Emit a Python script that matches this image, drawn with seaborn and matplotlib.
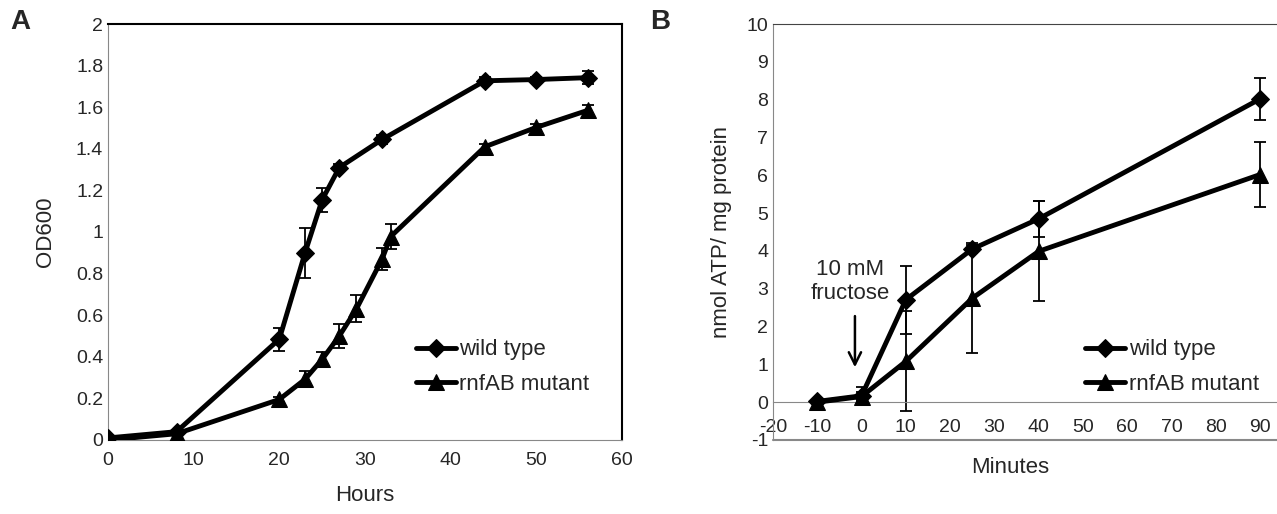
import matplotlib
matplotlib.use("Agg")
import matplotlib.pyplot as plt
import seaborn as sns
import pandas as pd

# panel A - growth curve
hours_wt = [0, 8, 20, 23, 25, 27, 32, 44, 50, 56]
od_wt = [0.01, 0.04, 0.485, 0.90, 1.155, 1.31, 1.445, 1.727, 1.733, 1.742]
od_wt_err = [0.005, 0.01, 0.055, 0.12, 0.058, 0.015, 0.02, 0.02, 0.012, 0.03]
hours_mut = [0, 8, 20, 23, 25, 27, 29, 32, 33, 44, 50, 56]
od_mut = [0.0, 0.03, 0.195, 0.292, 0.388, 0.50, 0.63, 0.87, 0.978, 1.41, 1.503, 1.585]
od_mut_err = [0.005, 0.005, 0.012, 0.038, 0.035, 0.056, 0.065, 0.052, 0.062, 0.015, 0.015, 0.027]

# panel B - ATP
min_pts = [-10, 0, 10, 25, 40, 90]
atp_wt = [0.02, 0.17, 2.71, 4.05, 4.85, 8.02]
atp_wt_err = [0.05, 0.22, 0.9, 0.1, 0.48, 0.56]
atp_mut = [0.0, 0.15, 1.08, 2.75, 3.99, 6.02]
atp_mut_err = [0.03, 0.12, 1.32, 1.46, 1.32, 0.85]

labels = ["wild type", "rnfAB mutant"]

sns.set_style("white")
plt.rcParams['font.family'] = ['Liberation Sans', 'DejaVu Sans']
plt.rcParams['axes.unicode_minus'] = False

fig = plt.figure(figsize=(12.77, 5.14), dpi=100)
axA = fig.add_axes([108/1277, 74/514, 514/1277, 416/514])
axB = fig.add_axes([773/1277, 74/514, 504/1277, 416/514])

def draw(ax, x1, y1, e1, x2, y2, e2):
    df1 = pd.DataFrame({"x": x1, "y": y1})
    df2 = pd.DataFrame({"x": x2, "y": y2})
    ax.errorbar(x1, y1, yerr=e1, fmt="none", ecolor="black", elinewidth=1.3, capsize=4, capthick=1.3, zorder=2)
    ax.errorbar(x2, y2, yerr=e2, fmt="none", ecolor="black", elinewidth=1.3, capsize=4, capthick=1.3, zorder=2)
    sns.lineplot(data=df1, x="x", y="y", ax=ax, color="black", lw=3.5, marker="D", markersize=9,
                 markeredgecolor="black", label=labels[0], sort=False, zorder=3)
    sns.lineplot(data=df2, x="x", y="y", ax=ax, color="black", lw=3.5, marker="^", markersize=11,
                 markeredgecolor="black", label=labels[1], sort=False, zorder=3)

draw(axA, hours_wt, od_wt, od_wt_err, hours_mut, od_mut, od_mut_err)
draw(axB, min_pts, atp_wt, atp_wt_err, min_pts, atp_mut, atp_mut_err)

# panel A axes
axA.set_xlim(0, 60)
axA.set_ylim(0, 2)
axA.set_xticks(range(0, 61, 10))
axA.set_yticks([0, 0.2, 0.4, 0.6, 0.8, 1, 1.2, 1.4, 1.6, 1.8, 2])
axA.set_yticklabels(["0", "0.2", "0.4", "0.6", "0.8", "1", "1.2", "1.4", "1.6", "1.8", "2"])
axA.set_xlabel("Hours", fontsize=16, labelpad=12)
axA.set_ylabel("OD600", fontsize=16, labelpad=14)
for s in ["left", "bottom"]:
    axA.spines[s].set_color("#888888")
for s in ["top", "right"]:
    axA.spines[s].set_color("black")
    axA.spines[s].set_linewidth(1.5)
axA.tick_params(axis="both", labelsize=14, direction="out", length=5, color="#888888")
axA.tick_params(axis="y", length=0)
axA.legend(loc="upper left", bbox_to_anchor=(0.56, 0.29), frameon=False, fontsize=16,
           handlelength=1.8, handletextpad=0.15, labelspacing=0.6)

# panel B axes
axB.set_xlim(-20, 93.8)
axB.set_ylim(-1, 10)
axB.set_xticks(range(-20, 91, 10))
axB.set_yticks(range(-1, 11))
axB.spines["bottom"].set_position(("data", 0))
axB.spines["bottom"].set_color("#888888")
axB.spines["left"].set_color("#888888")
axB.spines["top"].set_color("#444444")
axB.spines["right"].set_visible(False)
axB.axhline(-1, color="#888888", lw=1.5, clip_on=False)
axB.tick_params(axis="x", labelsize=14, direction="out", length=6, color="#888888", pad=6)
axB.tick_params(axis="y", labelsize=14, length=0)
axB.set_xlabel("Minutes", fontsize=16, va="center")
axB.xaxis.set_label_coords(0.47, -0.065)
axB.set_ylabel("nmol ATP/ mg protein", fontsize=16, labelpad=10)
axB.legend(loc="upper left", bbox_to_anchor=(0.58, 0.29), frameon=False, fontsize=16,
           handlelength=1.8, handletextpad=0.15, labelspacing=0.6)
axB.annotate("", xy=(-1.5, 0.85), xytext=(-1.5, 2.35),
             arrowprops=dict(arrowstyle="->", color="black", lw=1.8, mutation_scale=22))
axB.text(-2.5, 3.2, "10 mM\nfructose", ha="center", va="center", fontsize=16, linespacing=1.2)

fig.text(10/1277, 1 - 22/514, "A", fontsize=20, fontweight="bold", va="center")
fig.text(650/1277, 1 - 22/514, "B", fontsize=20, fontweight="bold", va="center")

fig.savefig("out.png", dpi=100)
